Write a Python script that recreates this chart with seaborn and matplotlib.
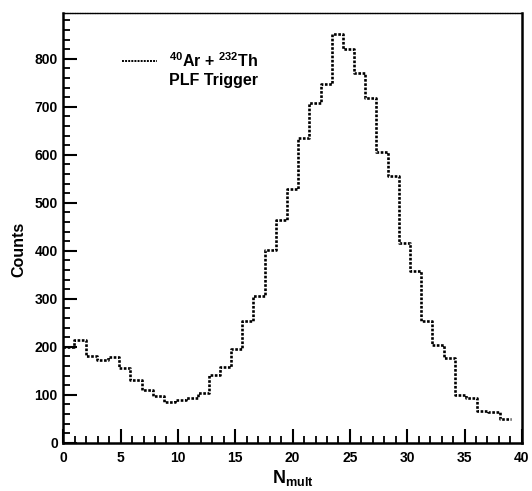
import numpy as np
import pandas as pd
import matplotlib
matplotlib.use("Agg")
import matplotlib.pyplot as plt
from matplotlib.lines import Line2D
from matplotlib.ticker import MultipleLocator
import seaborn as sns

# counts per N_mult bin (40 filled bins)
counts = [200, 215, 180, 172, 178, 155, 130, 110, 97, 85,
          90, 93, 103, 142, 159, 195, 253, 305, 402, 465,
          528, 635, 708, 748, 852, 821, 770, 718, 607, 556,
          416, 359, 253, 204, 176, 100, 94, 67, 64, 50]
n_bins_axis = 41          # histogram booked with 41 bins on [0, 40]
x_range = (0, 40)
legend_lines = [r"$^{40}$Ar + $^{232}$Th", "PLF Trigger"]

sns.set_theme(style="ticks")
plt.rcParams["font.family"] = ["Liberation Sans", "DejaVu Sans"]
plt.rcParams["font.weight"] = "bold"
plt.rcParams["text.color"] = "black"
plt.rcParams["axes.labelcolor"] = "black"
plt.rcParams["xtick.color"] = "black"
plt.rcParams["ytick.color"] = "black"
plt.rcParams["mathtext.fontset"] = "custom"
plt.rcParams["mathtext.rm"] = "Liberation Sans:bold"
plt.rcParams["mathtext.it"] = "Liberation Sans:bold"
plt.rcParams["mathtext.bf"] = "Liberation Sans:bold"

edges = np.linspace(x_range[0], x_range[1], n_bins_axis + 1)[:len(counts) + 1]
df = pd.DataFrame({"nmult": (edges[:-1] + edges[1:]) / 2, "count": counts})

fig = plt.figure(figsize=(5.32, 4.91), dpi=100)
ax = fig.add_axes([0.119, 0.098, 0.862, 0.875])

sns.histplot(data=df, x="nmult", weights="count", bins=list(edges),
             element="step", fill=False, color="black", linewidth=1.9,
             linestyle=(0, (1, 0.6)), ax=ax)

ax.set_xlim(*x_range)
ax.set_ylim(0, 895)
ax.xaxis.set_major_locator(MultipleLocator(5))
ax.xaxis.set_minor_locator(MultipleLocator(1))
ax.yaxis.set_major_locator(MultipleLocator(100))
ax.yaxis.set_minor_locator(MultipleLocator(20))
ax.tick_params(which="major", direction="in", length=10, width=1.5,
               labelsize=10, pad=4, color="black", labelcolor="black")
ax.tick_params(which="minor", direction="in", length=5, width=1.3, color="black")
ax.tick_params(axis="x", pad=6)
for lab in ax.get_xticklabels() + ax.get_yticklabels():
    lab.set_fontweight("bold")

for side in ["left", "bottom", "right"]:
    ax.spines[side].set_linewidth(1.8)
    ax.spines[side].set_color("black")
ax.spines["top"].set_linewidth(1.0)
ax.spines["top"].set_linestyle((0, (1, 0.8)))
ax.spines["top"].set_color("black")

ax.set_ylabel("Counts", fontsize=11.5, fontweight="bold", color="black")
ax.yaxis.set_label_coords(-0.08, 0.45)
ax.set_xlabel(r"N$_{\rm mult}$", fontsize=13, fontweight="bold", color="black",
              labelpad=2)

handles = [Line2D([], [], color="black", linewidth=1.4, linestyle=(0, (1, 0.6))),
           Line2D([], [], color="none")]
leg = ax.legend(handles, legend_lines, loc="upper left", bbox_to_anchor=(0.11, 0.93),
                frameon=False, borderpad=0, handlelength=2.2, handletextpad=0.75,
                labelspacing=0.2, prop={"size": 11.5, "weight": "bold"})
for t in leg.get_texts():
    t.set_color("black")

fig.savefig("out.png", dpi=100)
